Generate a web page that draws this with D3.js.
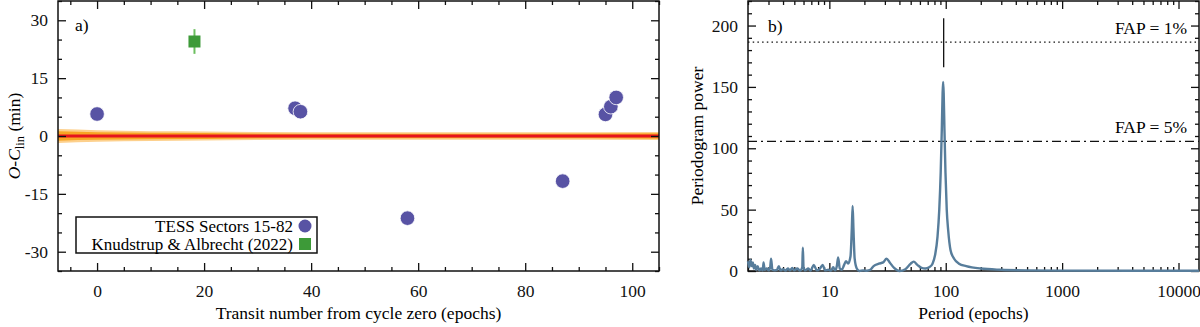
<!DOCTYPE html>
<html>
<head>
<meta charset="utf-8">
<script src="https://cdn.jsdelivr.net/npm/d3@7"></script>
<style>
  html, body { margin: 0; padding: 0; background: #fff; }
  svg { display: block; font-family: "Liberation Serif", "DejaVu Serif", serif; }
</style>
</head>
<body>
<svg id="chart" width="1200" height="327"></svg>
<script>
// ---- panel a) O-C data ----
const tessEpochs = [0, 37, 38, 58, 87, 95, 96, 97];
const tessOC     = [5.7, 7.2, 6.3, -21.3, -11.7, 5.6, 7.6, 10.0];
const kaEpochs = [18.2];
const kaOC     = [24.5];
const kaErr    = [3.2];

// linear-ephemeris uncertainty band (min)
const bandEpochs = [-7.3, 0, 20, 50, 80, 105];
const bandOuter  = [1.8, 1.5, 1.15, 0.95, 0.95, 1.05];
const bandInner  = [1.2, 1.0, 0.75, 0.6, 0.6, 0.7];

const legendLabels = ["TESS Sectors 15-82", "Knudstrup & Albrecht (2022)"];

// ---- panel b) periodogram ----
const periods = [2.0, 2.05, 2.1, 2.15, 2.2, 2.25, 2.3, 2.35, 2.42, 2.5, 2.6, 2.68, 2.72, 2.78, 2.9, 3.0,
  3.1, 3.16, 3.24, 3.4, 3.55, 3.68, 3.8, 4.0, 4.2, 4.4, 4.6, 4.8, 5.0, 5.3, 5.6, 5.85, 5.92, 6.0,
  6.2, 6.6, 6.9, 7.35, 7.8, 8.3, 8.77, 9.2, 9.8, 10.3, 10.8, 11.2, 11.6, 11.9, 12.3, 12.8, 13.4,
  13.9, 14.5, 15.2, 15.6, 15.85, 16.1, 16.5, 17.2, 18.1, 19.5, 21, 22.5, 24, 26.6, 29, 31, 33, 36,
  40, 45, 50, 53, 57, 62, 67, 72, 77, 81, 85, 88, 90.5, 92.5, 94, 95, 96, 97.5, 99.5, 102, 105,
  110, 118, 130, 150, 200, 300, 500, 1000, 15000];
const powers = [8, 3, 9, 4, 7, 2, 5, 1, 4, 0.5, 2, 0.5, 7, 1, 2, 0.5,
  3, 10, 1, 0.5, 1, 4, 0.5, 1.5, 0.3, 2, 0.5, 2.5, 0.5, 2, 0.3, 3, 19, 3,
  0.5, 2, 0.3, 5, 0.5, 2, 5, 0.5, 1, 0.3, 3, 0.5, 4, 11, 2, 1, 5,
  8, 6, 12, 35, 53, 35, 10, 2, 0, 0.5, 0.2, 1, 4, 6, 7, 10, 7, 2.5,
  0, 1.5, 6, 7.6, 5, 2.5, 2, 3, 6, 13, 28, 50, 80, 115, 145, 154, 145, 115, 80, 50, 33,
  17, 10, 6, 4, 2, 1, 0.5, 0.3, 0.2];
const fapLevels = [186.5, 105.6];
const fapLabels = ["FAP = 1%", "FAP = 5%"];
const peakPeriod = 96;
const peakMarker = [166, 206];

const svg = d3.select("#chart");
const FONT = 17.5;

// ===================== panel a =====================
const A = { left: 58, right: 659, top: 1, bottom: 271 };
const xA = d3.scaleLinear().domain([-7.3, 105]).range([A.left, A.right]);
const yA = d3.scaleLinear().domain([-35, 35]).range([A.bottom, A.top]);

const gA = svg.append("g");

// band
const bandData = bandEpochs.map((e, i) => ({ e, o: bandOuter[i], n: bandInner[i] }));
gA.append("path")
  .datum(bandData)
  .attr("fill", "#fdd08c")
  .attr("d", d3.area().x(d => xA(d.e)).y0(d => yA(-d.o)).y1(d => yA(d.o)).curve(d3.curveMonotoneX));
gA.append("path")
  .datum(bandData)
  .attr("fill", "#f8a523")
  .attr("d", d3.area().x(d => xA(d.e)).y0(d => yA(-d.n)).y1(d => yA(d.n)).curve(d3.curveMonotoneX));
gA.append("line")
  .attr("x1", xA(-7.3)).attr("x2", xA(105))
  .attr("y1", yA(0)).attr("y2", yA(0))
  .attr("stroke", "#e5141e").attr("stroke-width", 3);

// axes with inward ticks
function addAxes(g, x, y, box, xMajor, xMinor, yMajor, yMinor, xFmt) {
  const h = box.bottom - box.top, w = box.right - box.left;
  const mk = (axisFn, scale, vals, size, fmt, tr, pad) => {
    const ax = g.append("g").attr("transform", tr)
      .call(axisFn(scale).tickValues(vals).tickSizeInner(size).tickSizeOuter(0)
        .tickPadding(pad || 12).tickFormat(fmt));
    ax.select(".domain").remove();
    ax.selectAll("line").attr("stroke", "#111").attr("stroke-width", 1.3);
    ax.selectAll("text").attr("font-family", "Liberation Serif").attr("font-size", FONT).attr("fill", "#111");
    return ax;
  };
  const none = () => "";
  mk(d3.axisBottom, x, xMajor, -8, xFmt, `translate(0,${box.bottom})`, 14);
  mk(d3.axisBottom, x, xMinor, -4, none, `translate(0,${box.bottom})`);
  mk(d3.axisTop, x, xMajor, -8, none, `translate(0,${box.top})`);
  mk(d3.axisTop, x, xMinor, -4, none, `translate(0,${box.top})`);
  mk(d3.axisLeft, y, yMajor, -8, d3.format("d"), `translate(${box.left},0)`).selectAll("text").attr("dx", 2);
  mk(d3.axisLeft, y, yMinor, -4, none, `translate(${box.left},0)`);
  mk(d3.axisRight, y, yMajor, -8, none, `translate(${box.right},0)`);
  mk(d3.axisRight, y, yMinor, -4, none, `translate(${box.right},0)`);
  g.append("rect")
    .attr("x", box.left).attr("y", box.top).attr("width", w).attr("height", h)
    .attr("fill", "none").attr("stroke", "#111").attr("stroke-width", 1.5);
}

addAxes(gA, xA, yA, A,
  d3.range(0, 101, 20), d3.range(-5, 106, 5).filter(v => v % 20 !== 0),
  d3.range(-30, 31, 15), d3.range(-35, 36, 5).filter(v => v % 15 !== 0),
  d3.format("d"));
gA.selectAll("text").filter(function () { return this.textContent.startsWith("−"); })
  .text(function () { return this.textContent.replace("−", "-"); });

// K&A point with error bar
kaEpochs.forEach((e, i) => {
  gA.append("line")
    .attr("x1", xA(e)).attr("x2", xA(e))
    .attr("y1", yA(kaOC[i] - kaErr[i])).attr("y2", yA(kaOC[i] + kaErr[i]))
    .attr("stroke", "#6cbf5f").attr("stroke-width", 2);
  gA.append("rect")
    .attr("x", xA(e) - 6).attr("y", yA(kaOC[i]) - 6)
    .attr("width", 12).attr("height", 12)
    .attr("fill", "#3d9a38");
});

// TESS points
gA.selectAll("circle.tess")
  .data(tessEpochs.map((e, i) => [e, tessOC[i]]))
  .join("circle")
  .attr("class", "tess")
  .attr("cx", d => xA(d[0])).attr("cy", d => yA(d[1]))
  .attr("r", 7.3)
  .attr("fill", "#5853a4").attr("stroke", "#fff").attr("stroke-width", 0.8);

gA.append("text").attr("x", 75).attr("y", 31).attr("font-size", FONT).text("a)");

// legend
gA.append("rect").attr("x", 76).attr("y", 217).attr("width", 241).attr("height", 36)
  .attr("fill", "#fff").attr("stroke", "#111").attr("stroke-width", 1.5);
gA.append("text").attr("x", 293).attr("y", 231.5).attr("text-anchor", "end")
  .attr("font-size", 17).text(legendLabels[0]);
gA.append("circle").attr("cx", 305).attr("cy", 226).attr("r", 6.5).attr("fill", "#5853a4");
gA.append("text").attr("x", 293).attr("y", 249.5).attr("text-anchor", "end")
  .attr("font-size", 17).text(legendLabels[1]);
gA.append("rect").attr("x", 299).attr("y", 238).attr("width", 12).attr("height", 12).attr("fill", "#3d9a38");

// axis titles
gA.append("text").attr("x", (A.left + A.right) / 2).attr("y", 319)
  .attr("text-anchor", "middle").attr("font-size", FONT)
  .text("Transit number from cycle zero (epochs)");
const yl = gA.append("text")
  .attr("transform", `translate(20,${(A.top + A.bottom) / 2}) rotate(-90)`)
  .attr("text-anchor", "middle").attr("font-size", FONT);
yl.append("tspan").attr("font-style", "italic").text("O");
yl.append("tspan").text("-");
yl.append("tspan").attr("font-style", "italic").text("C");
yl.append("tspan").attr("font-size", 12.5).attr("dy", 4).text("lin");
yl.append("tspan").attr("dy", -4).text(" (min)");

// ===================== panel b =====================
const B = { left: 748, right: 1199, top: 1, bottom: 271 };
const xB = d3.scaleLog().domain([2, 15000]).range([B.left, B.right]);
const yB = d3.scaleLinear().domain([0, 220]).range([B.bottom, B.top]);
const gB = svg.append("g");

const logMinor = [];
for (let k = 0; k <= 4; k++) for (let m = 1; m <= 9; m++) {
  const v = m * Math.pow(10, k);
  if (v >= 2 && v <= 15000 && m !== 1) logMinor.push(v);
}
addAxes(gB, xB, yB, B,
  [10, 100, 1000, 10000], logMinor,
  d3.range(0, 201, 50), d3.range(0, 221, 10).filter(v => v % 50 !== 0),
  d3.format("d"));

// FAP lines
const dashes = ["1.5,3.2", "9,4,2,4"];
fapLevels.forEach((f, i) => {
  gB.append("line")
    .attr("x1", B.left).attr("x2", B.right)
    .attr("y1", yB(f)).attr("y2", yB(f))
    .attr("stroke", "#111").attr("stroke-width", 1.3)
    .attr("stroke-dasharray", dashes[i]);
  gB.append("text")
    .attr("x", 1187).attr("y", yB(f) - 8)
    .attr("text-anchor", "end").attr("font-size", FONT).text(fapLabels[i]);
});

// periodogram curve
const pg = periods.map((p, i) => [p, powers[i]]);
gB.append("path")
  .datum(pg)
  .attr("fill", "none").attr("stroke", "#577d9b").attr("stroke-width", 2.4)
  .attr("stroke-linejoin", "round")
  .attr("d", d3.line().x(d => xB(d[0])).y(d => yB(d[1])).curve(d3.curveMonotoneX));

// peak marker
gB.append("line")
  .attr("x1", xB(peakPeriod)).attr("x2", xB(peakPeriod))
  .attr("y1", yB(peakMarker[0])).attr("y2", yB(peakMarker[1]))
  .attr("stroke", "#111").attr("stroke-width", 1.3);

gB.append("text").attr("x", 768).attr("y", 32).attr("font-size", FONT).text("b)");

gB.append("text").attr("x", (B.left + B.right) / 2).attr("y", 319)
  .attr("text-anchor", "middle").attr("font-size", FONT).text("Period (epochs)");
gB.append("text")
  .attr("transform", `translate(703,${(B.top + B.bottom) / 2}) rotate(-90)`)
  .attr("text-anchor", "middle").attr("font-size", FONT).text("Periodogram power");
</script>
</body>
</html>
